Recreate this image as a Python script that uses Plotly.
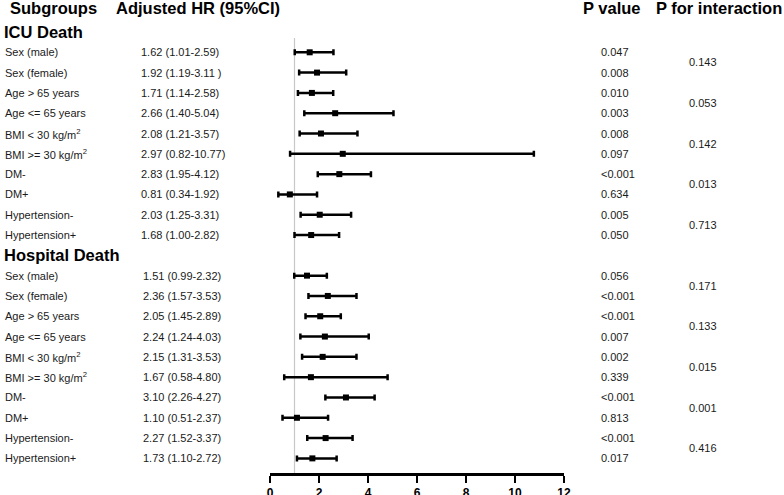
import plotly.graph_objects as go

# ---------------- data ----------------
subgroup_labels = ["Sex (male)", "Sex (female)", "Age > 65 years", "Age <= 65 years",
                   "BMI < 30 kg/m<sup>2</sup>", "BMI >= 30 kg/m<sup>2</sup>",
                   "DM-", "DM+", "Hypertension-", "Hypertension+"]

icu_hr = [1.62, 1.92, 1.71, 2.66, 2.08, 2.97, 2.83, 0.81, 2.03, 1.68]
icu_lo = [1.01, 1.19, 1.14, 1.40, 1.21, 0.82, 1.95, 0.34, 1.25, 1.00]
icu_hi = [2.59, 3.11, 2.58, 5.04, 3.57, 10.77, 4.12, 1.92, 3.31, 2.82]
icu_hr_text = ["1.62 (1.01-2.59)", "1.92 (1.19-3.11 )", "1.71 (1.14-2.58)", "2.66 (1.40-5.04)",
               "2.08 (1.21-3.57)", "2.97 (0.82-10.77)", "2.83 (1.95-4.12)", "0.81 (0.34-1.92)",
               "2.03 (1.25-3.31)", "1.68 (1.00-2.82)"]
icu_p = ["0.047", "0.008", "0.010", "0.003", "0.008", "0.097", "<0.001", "0.634", "0.005", "0.050"]
icu_p_int = ["0.143", "0.053", "0.142", "0.013", "0.713"]

hosp_hr = [1.51, 2.36, 2.05, 2.24, 2.15, 1.67, 3.10, 1.10, 2.27, 1.73]
hosp_lo = [0.99, 1.57, 1.45, 1.24, 1.31, 0.58, 2.26, 0.51, 1.52, 1.10]
hosp_hi = [2.32, 3.53, 2.89, 4.03, 3.53, 4.80, 4.27, 2.37, 3.37, 2.72]
hosp_hr_text = ["1.51 (0.99-2.32)", "2.36 (1.57-3.53)", "2.05 (1.45-2.89)", "2.24 (1.24-4.03)",
                "2.15 (1.31-3.53)", "1.67 (0.58-4.80)", "3.10 (2.26-4.27)", "1.10 (0.51-2.37)",
                "2.27 (1.52-3.37)", "1.73 (1.10-2.72)"]
hosp_p = ["0.056", "<0.001", "<0.001", "0.007", "0.002", "0.339", "<0.001", "0.813", "<0.001", "0.017"]
hosp_p_int = ["0.171", "0.133", "0.015", "0.001", "0.416"]

section_titles = ["ICU Death", "Hospital Death"]
column_headers = ["Subgroups", "Adjusted HR (95%CI)", "P value", "P for interaction"]
x_ticks = [0, 2, 4, 6, 8, 10, 12]

# ---------------- layout helpers ----------------
W, H = 784, 495
FONT = "Arial, Liberation Sans, sans-serif"
icu_pos = list(range(1, 11))
hosp_pos = list(range(12, 22))
header_pos = [0, 11]

fig = go.Figure()

for hr, lo, hi, pos in [(icu_hr, icu_lo, icu_hi, icu_pos), (hosp_hr, hosp_lo, hosp_hi, hosp_pos)]:
    fig.add_trace(go.Scatter(
        x=hr, y=pos, mode="markers",
        marker=dict(symbol="square", size=6, color="black"),
        error_x=dict(type="data", symmetric=False,
                     array=[h - m for h, m in zip(hi, hr)],
                     arrayminus=[m - l for m, l in zip(hr, lo)],
                     thickness=2.5, width=3, color="black"),
        showlegend=False, hoverinfo="skip", cliponaxis=False))

# reference line at HR = 1
fig.add_shape(type="line", xref="x", yref="y", x0=1, x1=1, y0=0.3, y1=21.72,
              line=dict(color="#c8c8c8", width=1.2), layer="below")

ann = []
def txt(text, xpx, y, size=11, bold=False, anchor="left"):
    ann.append(dict(text=text, xref="paper", yref="y", x=xpx / W, y=y,
                    xanchor=anchor, yanchor="middle", showarrow=False,
                    font=dict(family=FONT, size=size, color="black" if bold else "#1a1a1a",
                              weight="bold" if bold else "normal")))

hdr_y = -1.18
txt(column_headers[0], 8, hdr_y, 16.5, True)
txt(column_headers[1], 114, hdr_y, 16.5, True)
txt(column_headers[2], 581, hdr_y, 16.5, True)
txt(column_headers[3], 654, hdr_y, 16.5, True)

for title, p in zip(section_titles, header_pos):
    txt(title, 2, p, 16.5, True)

for pos, hrt, pv, pint, hx in [(icu_pos, icu_hr_text, icu_p, icu_p_int, 138.5),
                               (hosp_pos, hosp_hr_text, hosp_p, hosp_p_int, 140.5)]:
    for i, p in enumerate(pos):
        txt(subgroup_labels[i], 3, p)
        txt(hrt[i], hx, p)
        txt(pv[i], 599, p)
    for j, v in enumerate(pint):
        txt(v, 687, (pos[2 * j] + pos[2 * j + 1]) / 2)

fig.update_layout(
    template="none",
    width=W, height=H,
    margin=dict(l=0, r=0, t=0, b=0),
    paper_bgcolor="white", plot_bgcolor="white",
    annotations=ann,
    xaxis=dict(domain=[270 / W, 564 / W], range=[0, 12], tickvals=x_ticks,
               showgrid=False, zeroline=False, showline=True, linecolor="black", linewidth=2.5,
               ticks="outside", ticklen=7, tickwidth=2, tickcolor="black",
               tickfont=dict(family=FONT, size=12, color="black", weight="bold"),
               fixedrange=True, automargin=False),
    yaxis=dict(domain=[22 / H, 1], range=[21.72, -1.576], visible=False,
               showgrid=False, zeroline=False, fixedrange=True, automargin=False),
)

fig.write_html("out.html", config={"displayModeBar": False},
               post_script="document.body.style.margin='0';document.body.style.overflow='hidden';")
